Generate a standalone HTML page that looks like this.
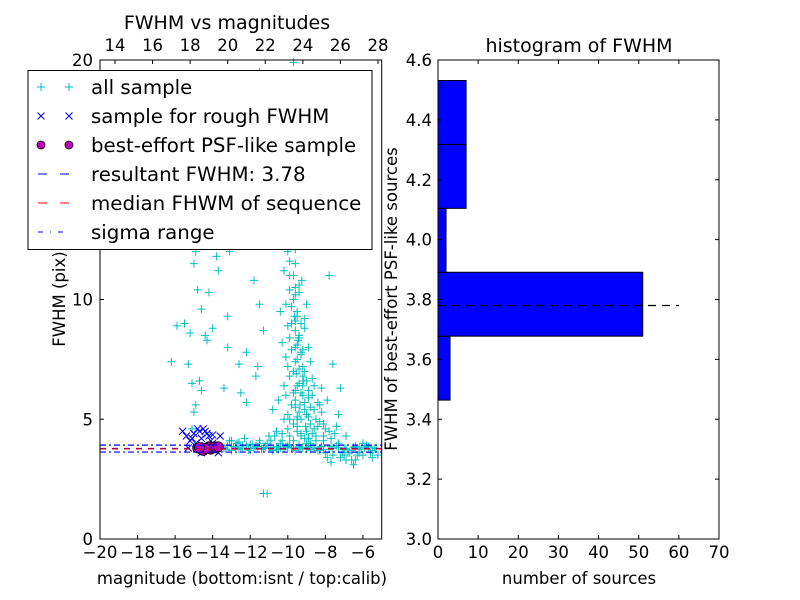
<!DOCTYPE html>
<html><head><meta charset="utf-8"><style>
html,body{margin:0;padding:0;background:#fff;}
svg{display:block;font-family:"DejaVu Sans","Liberation Sans",sans-serif;}
</style></head><body>
<svg id="fig" width="800" height="600" viewBox="0 0 800 600" xmlns="http://www.w3.org/2000/svg">
<rect width="800" height="600" fill="#fff"/>
<g id="left"></g>
<g id="right"></g>
</svg>
<script>
// ---- scatter data (magnitude, FWHM) ----
const allMag = [-9.5,-9.3,-9.6,-9.2,-9.4,-9.7,-9.5,-9.6,-9.4,-9.8,-9.5,-9.7,-9.6,-9.9,-9.6,-10,-9.8,-9.7,-9.6,-9.0,-8.8,-9.1,-9.3,-8.6,-8.9,-9.2,-9.9,-10.1,-10.2,-10.3,-9.1,-8.8,-8.5,-8.3,-8.0,-8.2,-8.7,-9.0,-10.0,-10.4,-10.5,-10.6,-10.8,-11.0,-10.2,-9.8,-9.5,-10.4,-9.7,-9.2,-9.5,-9.7,-10.3,-9.0,-8.2,-7.9,-7.8,-8.1,-7.5,-7.2,-7.3,-7.8,-7.6,-9.4,-9.6,-9.2,-9.5,-9.7,-10.0,-9.9,-9.1,-8.8,-9.3,-9.45,-9.55,-9.35,-9.15,-9.65,-9.25,-9.05,
-15.5,-15.2,-15.0,-14.9,-14.6,-14.8,-15.3,-15.1,-14.7,-14.6,-15.0,-14.9,-15.1,-15.9,-16.2,-14.2,-14.4,-14.0,-13.8,-13.2,-13.2,-14.3,-13.1,-13.4,-12.5,-12.2,-12.6,-12.4,-11.8,-11.5,-11.3,-11.6,-11.7,-12.1,-11.9,-12.3,-11.5,-13.5,-13.7,-12.8,-14.2,-12.2,
-13.4,-13.2,-13.0,-12.8,-12.6,-12.4,-12.2,-12.0,-11.8,-11.6,-11.4,-11.2,-11.0,-10.8,-10.6,-10.4,-10.2,-10.0,-9.8,-9.6,-9.4,-9.2,-9.0,-8.8,-8.6,-8.4,-8.2,-8.0,-7.8,-7.6,-7.4,-7.2,-7.0,-6.8,-6.6,-6.4,-6.2,-6.0,-5.8,-5.6,-5.4,-5.2,-13.1,-12.7,-12.3,-11.9,-11.5,-11.1,-10.7,-10.3,-9.9,-8.9,-8.5,-8.1,-7.7,-7.3,-6.9,-6.5,-7.9,-7.1,-6.7,-8.3,-6.3,-5.5,-11.3,-11.1,
-9.3,-9.5,-9.4,-9.6,-9.3,-9.5,-9.2,-9.4,-9.6,-9.3,-9.5,-9.4,-9.6,-9.3,-9.5,-9.8,-9.6,-9.4,-9.7,-9.5,-9.1,-8.9,-9.0,-8.7,-8.5,-8.6,-8.4,-8.3,-8.9,-9.0,-9.1,-8.8,-9.8,-9.9,-10.0,-10.1,-9.8,-9.9,-10.0,-10.3,-10.2,-9.7,-9.2,-9.1,-8.9,-9.9,-10.1,-9.6,-9.9,-8.7,-8.6,-8.4,-8.1,-7.7,-7.4,-6.9,-7.0,-6.6,-6.2,-5.5,-5.8,-6.0,-9.4,-9.0,-9.7,-10.4,-10.9,-11.5,-12.0,-12.6,-13.0,
-13.3,-12.9,-12.5,-12.1,-11.7,-11.3,-10.9,-10.5,-10.1,-9.7,-9.3,-8.9,-8.5,-8.1,-7.7,-7.3,-6.9,-6.5,-6.1,-5.7,-13.0,-12.4,-11.8,-11.2,-10.6,-10.0,-9.4,-8.8,-8.2,-7.6,-7.0,-6.4,-5.9,-5.3];
const allFwhm = [4.5,5,5.5,6,6.5,7,7.5,8,8.5,9,9.5,10,10.5,11,11.5,12,12.5,13,6.2,5.2,4.8,5.7,4.3,4.6,5.9,7.2,6.8,7.6,6.4,8.2,8.8,5.5,5.0,4.9,4.6,5.3,6.7,9.8,8.9,9.5,5.8,4.5,5.4,4.3,11.2,12.8,14,15,16,17.5,19,19.9,13.6,13.1,6.3,5.8,4.5,4.1,4.4,6.3,5.2,11,7.3,10.3,9.1,7.9,5.1,4.8,5.2,4.3,4.2,4.0,7.7,8.3,6.9,5.6,6.6,9.3,10.8,4.7,
9,8.6,11.5,12,9.6,10.4,7.3,6.5,6.6,6.2,5.3,5.6,4.6,8.9,7.4,10.3,8.5,8.8,11.8,8,9.3,8.3,12,6.3,6.1,7.8,7.3,12.5,10.8,9.8,8.7,7.2,6.8,13.3,15,18,19.5,13.9,11.2,16.5,12.7,5.7,
3.8,3.9,3.7,3.85,3.75,3.8,3.9,3.7,3.8,3.85,3.75,3.9,3.8,3.7,3.85,3.8,3.75,3.9,3.8,3.7,3.85,3.8,3.75,3.9,3.8,3.7,3.85,3.6,3.75,3.5,3.9,3.4,3.8,3.6,3.7,3.3,3.8,3.5,3.9,3.6,3.8,3.5,4.1,4.0,4.2,3.95,4.1,4.0,4.3,4.1,3.95,4.2,4.1,4.3,3.2,4.0,3.3,3.1,3.4,3.6,3.6,3.7,3.5,3.7,1.9,1.9,
4.4,4.7,5.3,5.8,6.1,6.4,6.8,7.1,7.4,7.8,8.1,8.4,8.7,9.0,9.3,9.7,10.2,10.6,11.0,5.0,5.4,5.1,4.5,4.4,4.3,5.4,5.7,5.6,6.2,6.6,7.0,7.4,7.9,8.4,7.2,6.0,5.6,5.0,4.6,4.4,5.0,6.1,6.4,9.2,8.0,10.4,9.8,12.1,11.6,6.0,6.4,4.7,4.8,4.2,4.7,4.3,3.5,3.3,3.6,3.4,3.9,4.0,3.95,4.0,4.1,4.0,4.1,4.0,3.95,4.05,4.1,
3.75,3.85,3.8,3.72,3.88,3.78,3.82,3.74,3.86,3.8,3.76,3.84,3.79,3.73,3.87,3.81,3.77,3.83,3.75,3.85,3.7,3.9,3.78,3.82,3.76,3.84,3.8,3.74,3.86,3.79,3.73,3.87,3.81,3.77];
const roughMag = [-15.6,-15.4,-15.2,-15.0,-14.8,-14.6,-14.4,-14.2,-14.0,-13.8,-13.6,-15.3,-14.9,-14.7,-14.5,-14.3,-14.1,-13.9,-14.6,-14.4,-15.1,-14.8,-13.7,-14.2,-14.0];
const roughFwhm = [4.5,4.3,4.1,4.4,4.6,4.2,4.5,4.3,4.0,3.9,4.3,3.8,4.0,4.5,4.6,4.4,4.1,3.7,3.6,3.9,4.2,3.8,3.6,3.75,4.35];
const bestMag = [-14.8,-14.6,-14.5,-14.3,-14.2,-14.1,-14.0,-13.9,-13.8,-13.7,-14.4,-14.7];
const bestFwhm = [3.8,3.75,3.7,3.8,3.85,3.75,3.8,3.85,3.8,3.85,3.78,3.82];
const resultFwhm = 3.78, medianFwhm = 3.76, sigmaLo = 3.63, sigmaHi = 3.92;
const leftXTicks = [-20,-18,-16,-14,-12,-10,-8,-6];
const leftYTicks = [0,5,10,20];
const topTicks = [14,16,18,20,22,24,26,28];
// ---- histogram data ----
const binEdges = [3.464,3.6775,3.891,4.1045,4.318,4.5315];
const binCounts = [3,51,2,7,7];
const histYTicks = [3.0,3.2,3.4,3.6,3.8,4.0,4.2,4.4,4.6];
const histXTicks = [0,10,20,30,40,50,60,70];

const NS='http://www.w3.org/2000/svg';
function mk(parent,tag,attrs,text){const e=document.createElementNS(NS,tag);for(const k in attrs)e.setAttribute(k,attrs[k]);if(text!==undefined)e.textContent=text;parent.appendChild(e);return e;}
const FS=16.5;
// left axes
const L={x0:100,x1:381.7,y0:539,y1:60};
const lx=v=>L.x0+(v+20)/15*(L.x1-L.x0);
const ly=v=>L.y0-v/20*(L.y0-L.y1);
const tx=v=>115+(v-14)/14*(378-115);
const gl=document.getElementById('left');
for(let i=0;i<allMag.length;i++){
  const x=lx(allMag[i]),y=ly(allFwhm[i]);
  const p=mk(gl,'path',{d:`M${x-4},${y}H${x+4}M${x},${y-4}V${y+4}`,stroke:'#00bfbf','stroke-width':1});
  
  
}
for(let i=0;i<roughMag.length;i++){
  const x=lx(roughMag[i]),y=ly(roughFwhm[i]);
  const p=mk(gl,'path',{d:`M${x-3.5},${y-3.5}L${x+3.5},${y+3.5}M${x-3.5},${y+3.5}L${x+3.5},${y-3.5}`,stroke:'#0000ff','stroke-width':1});
  
  
}
for(let i=0;i<bestMag.length;i++){
  const c=mk(gl,'circle',{cx:lx(bestMag[i]),cy:ly(bestFwhm[i]),r:5,fill:'#bf00bf',stroke:'#000','stroke-width':0.8});
  
  
}
function hline(v,color,dash,name){const l=mk(gl,'line',{x1:L.x0,x2:L.x1,y1:ly(v),y2:ly(v),stroke:color,'stroke-width':1.2,'stroke-dasharray':dash});
  
  }
hline(sigmaHi,'#0000ff','6,3,2,3','sigma-upper-line');
hline(sigmaLo,'#0000ff','6,3,2,3','sigma-lower-line');
hline(resultFwhm,'#0000ff','6,6','resultant-fwhm-line');
hline(medianFwhm,'#ff0000','6,6','median-fwhm-line');
mk(gl,'rect',{x:L.x0,y:L.y1,width:L.x1-L.x0,height:L.y0-L.y1,fill:'none',stroke:'#000','stroke-width':1});
leftXTicks.forEach(v=>{const x=lx(v);mk(gl,'path',{d:`M${x},${L.y0}v-4`,stroke:'#000'});
  mk(gl,'text',{x:x,y:558,'font-size':FS,'text-anchor':'middle'},(v<0?'\u2212'+(-v):v));});
leftYTicks.forEach(v=>{const y=ly(v);mk(gl,'path',{d:`M${L.x0},${y}h4M${L.x1},${y}h-4`,stroke:'#000'});
  mk(gl,'text',{x:93,y:y+6,'font-size':FS,'text-anchor':'end'},v);});
topTicks.forEach(v=>{const x=tx(v);mk(gl,'path',{d:`M${x},${L.y1}v4`,stroke:'#000'});
  mk(gl,'text',{x:x,y:51,'font-size':FS,'text-anchor':'middle'},v);});
mk(gl,'text',{x:227,y:29,'font-size':19,'text-anchor':'middle',},'FWHM vs magnitudes');
mk(gl,'text',{x:242,y:584,'font-size':FS,'text-anchor':'middle',},'magnitude (bottom:isnt / top:calib)');
mk(gl,'text',{x:65,y:299,'font-size':FS,'text-anchor':'middle',transform:'rotate(-90 65 299)',},'FWHM (pix)');
// legend
const lg=mk(gl,'g',{});
mk(lg,'rect',{x:28,y:70.5,width:344,height:179,fill:'#fff',stroke:'#000','stroke-width':1});
const rows=[['all sample','plus'],['sample for rough FWHM','x'],['best-effort PSF-like sample','dot'],['resultant FWHM: 3.78','bdash'],['median FHWM of sequence','rdash'],['sigma range','dashdot']];
rows.forEach((r,i)=>{const y=87+i*29;const g=mk(lg,'g',{});
  [41,69].forEach(x=>{
    if(r[1]==='plus')mk(g,'path',{d:`M${x-4},${y}H${x+4}M${x},${y-4}V${y+4}`,stroke:'#00bfbf'});
    if(r[1]==='x')mk(g,'path',{d:`M${x-3.5},${y-3.5}L${x+3.5},${y+3.5}M${x-3.5},${y+3.5}L${x+3.5},${y-3.5}`,stroke:'#0000ff'});
    if(r[1]==='dot')mk(g,'circle',{cx:x,cy:y,r:4,fill:'#bf00bf',stroke:'#000','stroke-width':0.8});
  });
  if(r[1]==='bdash')mk(g,'path',{d:`M38,${y}h9M60,${y}h9`,stroke:'#0000ff'});
  if(r[1]==='rdash')mk(g,'path',{d:`M38,${y}h9M60,${y}h9`,stroke:'#ff0000'});
  if(r[1]==='dashdot')mk(g,'path',{d:`M38,${y}h5M50,${y}h1M58,${y}h5`,stroke:'#0000ff'});
  mk(g,'text',{x:91,y:y+7,'font-size':19.8},r[0]);
});

// right axes
const R={x0:438,x1:719,y0:539,y1:60};
const rx=v=>R.x0+v/70*(R.x1-R.x0);
const ry=v=>R.y0-(v-3.0)/1.6*(R.y0-R.y1);
const gr=document.getElementById('right');
for(let i=0;i<binCounts.length;i++){
  const b=mk(gr,'rect',{x:rx(0),y:ry(binEdges[i+1]),width:rx(binCounts[i])-rx(0),height:ry(binEdges[i])-ry(binEdges[i+1]),fill:'#0000ff',stroke:'#000','stroke-width':1});
  
  
}
mk(gr,'line',{x1:rx(0),x2:rx(60),y1:ry(resultFwhm),y2:ry(resultFwhm),stroke:'#000','stroke-width':1.2,'stroke-dasharray':'8,6',});
mk(gr,'rect',{x:R.x0,y:R.y1,width:R.x1-R.x0,height:R.y0-R.y1,fill:'none',stroke:'#000'});
histXTicks.forEach(v=>{const x=rx(v);mk(gr,'path',{d:`M${x},${R.y0}v-4M${x},${R.y1}v4`,stroke:'#000'});
  mk(gr,'text',{x:x,y:558,'font-size':FS,'text-anchor':'middle'},v);});
histYTicks.forEach(v=>{const y=ry(v);mk(gr,'path',{d:`M${R.x0},${y}h4M${R.x1},${y}h-4`,stroke:'#000'});
  mk(gr,'text',{x:432,y:y+6,'font-size':FS,'text-anchor':'end'},v.toFixed(1));});
mk(gr,'text',{x:579,y:52,'font-size':19,'text-anchor':'middle',},'histogram of FWHM');
mk(gr,'text',{x:579,y:584,'font-size':FS,'text-anchor':'middle',},'number of sources');
mk(gr,'text',{x:397,y:299,'font-size':FS,'text-anchor':'middle',transform:'rotate(-90 397 299)',},'FWHM of best-effort PSF-like sources');
</script>
</body></html>
